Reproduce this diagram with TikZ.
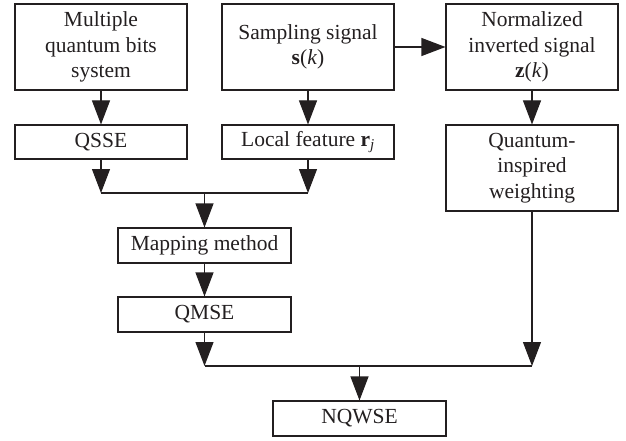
\documentclass[tikz,border=0pt]{standalone}
\usepackage{fontspec}
\setmainfont{Liberation Serif}
\usetikzlibrary{arrows.meta}
\definecolor{ink}{HTML}{231F20}
\tikzset{
  box/.style={draw=ink, line width=1.1pt, rectangle, inner sep=0pt, align=center,
    font=\fontsize{21.5}{25.5}\selectfont, text=ink},
  bigbox/.style={box, minimum width=172pt, minimum height=86pt},
  smallbox/.style={box, minimum width=172pt, minimum height=34pt},
  conn/.style={draw=ink, line width=1.1pt},
  arr/.style={conn, -{Triangle[width=18pt,length=24pt]}},
}
\begin{document}
\begin{tikzpicture}[x=1pt,y=-1pt]
\useasboundingbox (0,0) rectangle (626,441);
\node[bigbox] (mq) at (101,47) {Multiple\\quantum bits\\system};
\node[bigbox] (ss) at (308,47) {Sampling signal\\\textbf{s}(\textit{k})};
\node[bigbox] (nz) at (532,47) {Normalized\\inverted signal\\\textbf{z}(\textit{k})};
\node[smallbox] (qsse) at (101,142) {QSSE};
\node[smallbox] (lf) at (308,142) {Local feature \textbf{r}\textsubscript{\textit{j}}};
\node[bigbox] (qiw) at (532,168) {Quantum-\\inspired\\weighting};
\node[smallbox, minimum width=173pt, minimum height=35pt] (mm) at (204.5,245.5) {Mapping method};
\node[smallbox, minimum width=173pt, minimum height=35pt] (qmse) at (204.5,314.5) {QMSE};
\node[smallbox, minimum width=173pt, minimum height=35pt] (nq) at (359.5,418.5) {NQWSE};
\coordinate (j1) at (101,193);
\coordinate (j2) at (308,193);
\coordinate (jm) at (204.5,193);
\coordinate (j3) at (204.5,366);
\coordinate (j4) at (532,366);
\coordinate (jn) at (359.5,366);
\draw[arr] (ss) -- (nz);
\draw[arr] (mq) -- (qsse);
\draw[arr] (ss) -- (lf);
\draw[arr] (nz) -- (qiw);
\draw[arr] (qsse) -- (j1);
\draw[arr] (lf) -- (j2);
\draw[conn] (j1) -- (j2);
\draw[arr] (jm) -- (mm);
\draw[arr] (mm) -- (qmse);
\draw[arr] (qmse) -- (j3);
\draw[arr] (qiw) -- (j4);
\draw[conn] (j3) -- (j4);
\draw[arr] (jn) -- (nq);
\end{tikzpicture}
\end{document}
